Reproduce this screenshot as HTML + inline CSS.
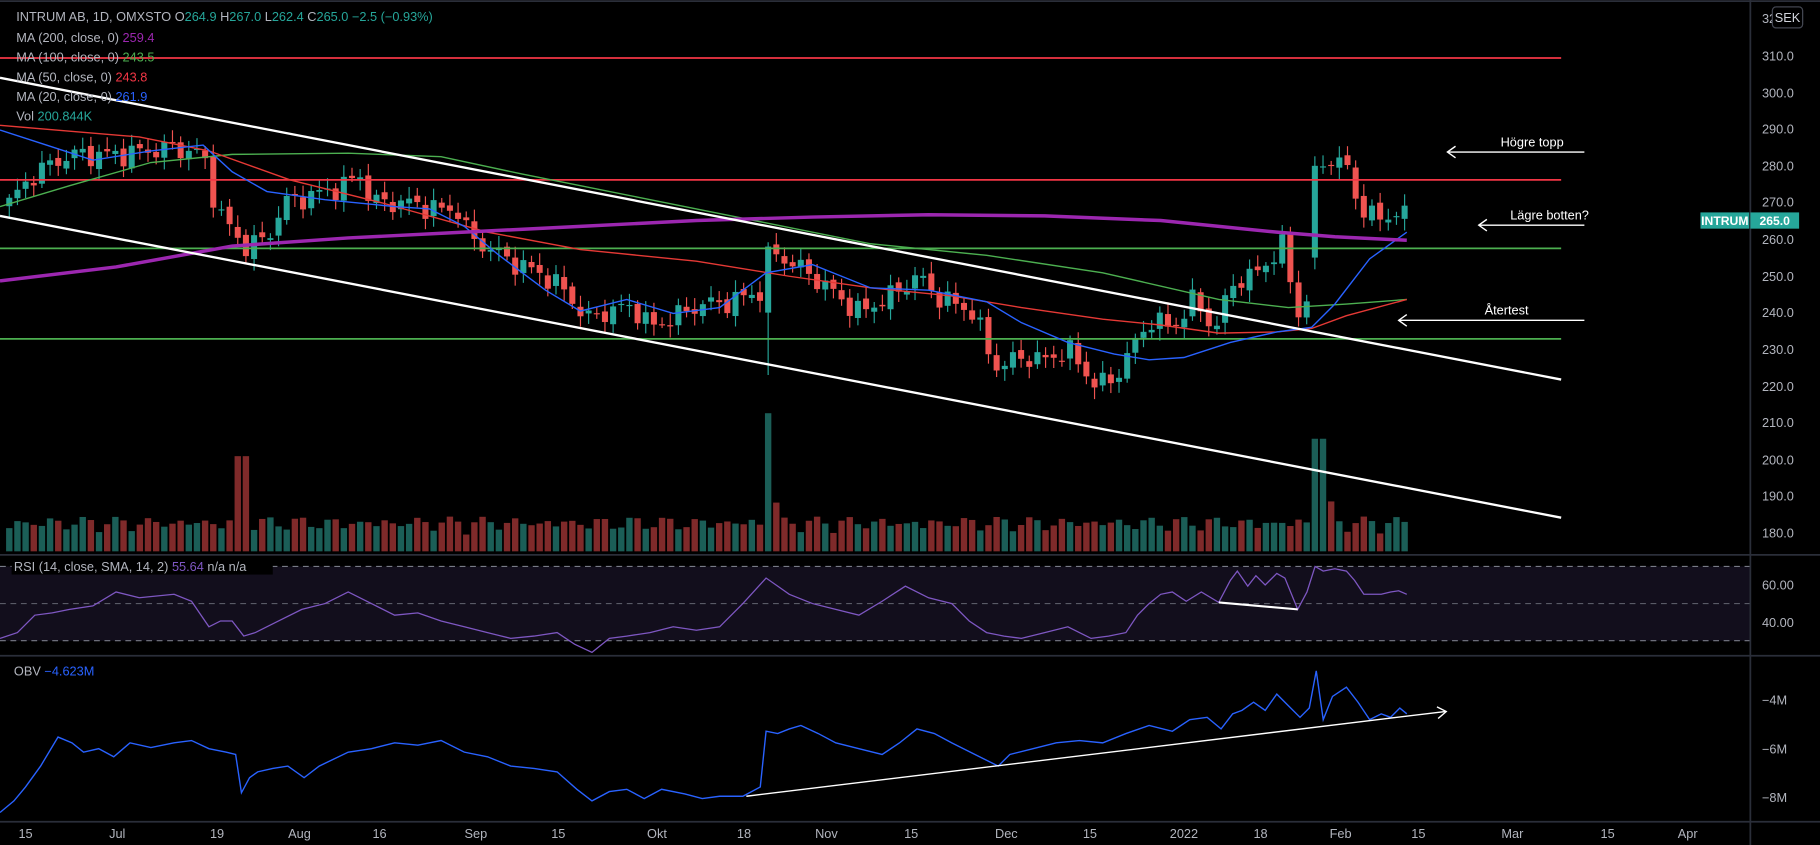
<!DOCTYPE html>
<html><head><meta charset="utf-8">
<style>
html,body{margin:0;padding:0;background:#000;overflow:hidden}
svg{display:block}
text{font-family:"Liberation Sans",sans-serif}
</style></head>
<body>
<svg id="s" width="1820" height="845" viewBox="0 0 1568 728" xmlns="http://www.w3.org/2000/svg">
<rect width="1568" height="728" fill="#000"/>
<rect x="0" y="488" width="1508" height="64" fill="#120e1c"/>
<line x1="0" y1="488" x2="1508" y2="488" stroke="#787b86" stroke-dasharray="5,4" stroke-width="1"/>
<line x1="0" y1="520" x2="1508" y2="520" stroke="#787b86" stroke-dasharray="5,4" stroke-width="1" opacity="0.7"/>
<line x1="0" y1="552" x2="1508" y2="552" stroke="#787b86" stroke-dasharray="5,4" stroke-width="1"/>
<line x1="0" y1="478" x2="1568" y2="478" stroke="#2a2e39" stroke-width="1.5"/>
<line x1="0" y1="565" x2="1568" y2="565" stroke="#2a2e39" stroke-width="1.5"/>
<line x1="0" y1="708" x2="1568" y2="708" stroke="#2a2e39" stroke-width="1.5"/>
<line x1="1508" y1="0" x2="1508" y2="728" stroke="#2a2e39" stroke-width="1.5"/>
<line x1="0" y1="1" x2="1568" y2="1" stroke="#2a2e39" stroke-width="1.5"/>
<g id="vol"></g>
<g id="candles"></g>
<line x1="0" y1="50" x2="1345" y2="50" stroke="#f23645" stroke-width="1.5"/>
<line x1="0" y1="155" x2="1345" y2="155" stroke="#f23645" stroke-width="1.5"/>
<line x1="0" y1="214" x2="1345" y2="214" stroke="#4caf50" stroke-width="1.5"/>
<line x1="0" y1="292" x2="1345" y2="292" stroke="#4caf50" stroke-width="1.5"/>
<polyline fill="none" stroke="#4caf50" stroke-width="1.2" points="0,178 60,160 130,140 200,133 300,132 380,135 450,150 550,170 650,190 750,210 850,220 950,235 1050,258 1110,265 1160,262 1212,258"/>
<polyline fill="none" stroke="#e53935" stroke-width="1.2" points="0,108 60,113 120,118 180,130 250,155 330,175 420,200 500,215 600,225 680,238 750,248 820,255 880,265 950,275 1000,280 1050,287 1100,286 1130,283 1160,272 1212,258"/>
<polyline fill="none" stroke="#2962ff" stroke-width="1.2" points="0,112 40,125 80,138 130,130 175,125 200,148 230,165 280,172 340,178 370,180 400,195 430,220 470,250 500,268 540,258 580,270 620,265 660,235 700,228 750,248 800,250 850,260 880,278 920,295 960,305 990,310 1020,308 1060,295 1100,286 1130,282 1150,262 1180,223 1212,200"/>
<polyline fill="none" stroke="#9c27b0" stroke-width="3" points="0,242 100,230 200,212 300,205 400,200 500,195 600,190 700,187 800,185 900,186 1000,190 1100,200 1150,204 1212,207"/>
<line x1="0" y1="67" x2="1345" y2="327" stroke="#fff" stroke-width="2"/>
<line x1="0" y1="186" x2="1345" y2="446" stroke="#fff" stroke-width="2"/>
<g stroke="#fff" stroke-width="1.2" fill="none">
<line x1="1248" y1="131" x2="1365" y2="131"/><polyline points="1254,126 1247,131 1254,136"/>
<line x1="1275" y1="194" x2="1365" y2="194"/><polyline points="1281,189 1274,194 1281,199"/>
<line x1="1206" y1="276" x2="1365" y2="276"/><polyline points="1212,271 1205,276 1212,281"/>
</g>
<g fill="#fff" font-size="11" text-anchor="middle">
<text x="1320" y="126">Högre topp</text>
<text x="1335" y="189">Lägre botten?</text>
<text x="1298" y="271">Återtest</text>
</g>
<polyline fill="none" stroke="#7e57c2" stroke-width="1.1" points="0,550 15,545 30,530 45,528 60,525 80,522 100,510 120,515 150,512 165,518 180,540 190,535 200,535 210,548 220,545 240,535 260,525 280,520 300,510 320,520 340,530 360,528 380,535 400,540 420,545 440,550 460,548 480,545 495,555 510,562 525,550 540,548 560,545 580,540 600,543 620,540 640,520 660,498 670,505 680,512 700,520 720,525 740,530 760,518 780,505 800,515 820,520 835,535 850,545 865,548 880,550 900,545 920,540 940,550 955,548 970,545 980,530 990,520 1000,512 1010,510 1022,518 1035,510 1050,519 1060,500 1066,492 1075,505 1082,496 1090,504 1100,494 1107,498 1118,525 1126,510 1133,488 1140,492 1150,490 1160,492 1167,500 1175,512 1190,512 1198,510 1205,509 1212,512"/>
<line x1="1050" y1="519" x2="1118" y2="525" stroke="#fff" stroke-width="1.8"/>
<polyline fill="none" stroke="#2962ff" stroke-width="1.2" points="0,700 12,690 22,678 35,660 50,635 62,640 72,648 85,645 98,652 112,640 130,644 150,640 165,638 180,645 195,648 203,650 208,683 215,670 222,665 235,662 248,660 262,670 275,660 300,648 320,645 340,640 360,642 380,638 400,648 420,652 440,660 460,662 480,665 497,680 510,690 525,682 540,680 555,688 570,680 590,684 605,688 620,686 640,686 655,678 660,630 670,632 680,628 690,625 705,632 720,640 740,645 760,650 775,640 790,628 805,632 820,640 840,650 860,660 870,650 890,645 910,640 930,638 950,640 970,632 990,625 1010,630 1025,620 1040,618 1052,628 1062,615 1070,612 1080,605 1090,612 1100,598 1110,608 1120,618 1128,610 1134,578 1140,620 1148,600 1160,592 1170,605 1180,620 1190,615 1198,618 1206,610 1212,615"/>
<line x1="643" y1="686" x2="1245" y2="613" stroke="#fff" stroke-width="1.2"/>
<polyline points="1238,609 1246,613 1239,619" fill="none" stroke="#fff" stroke-width="1.2"/>
<g fill="#b2b5be" font-size="11">
<text x="1518" y="52">310.0</text>
<text x="1518" y="84">300.0</text>
<text x="1518" y="115">290.0</text>
<text x="1518" y="147">280.0</text>
<text x="1518" y="178">270.0</text>
<text x="1518" y="210">260.0</text>
<text x="1518" y="242">250.0</text>
<text x="1518" y="273">240.0</text>
<text x="1518" y="305">230.0</text>
<text x="1518" y="337">220.0</text>
<text x="1518" y="368">210.0</text>
<text x="1518" y="400">200.0</text>
<text x="1518" y="431">190.0</text>
<text x="1518" y="463">180.0</text>
<text x="1518" y="20">320.0</text>
<text x="1518" y="508">60.00</text>
<text x="1518" y="540">40.00</text>
<text x="1518" y="607">−4M</text>
<text x="1518" y="649">−6M</text>
<text x="1518" y="691">−8M</text>
</g>
<rect x="1527" y="6" width="26" height="18" rx="3" fill="#000" stroke="#434651"/>
<text x="1540" y="19" fill="#d1d4dc" font-size="11" text-anchor="middle">SEK</text>
<rect x="1465" y="183" width="42" height="14" fill="#26a69a"/>
<text x="1486" y="194" fill="#fff" font-size="10.5" font-weight="bold" text-anchor="middle">INTRUM</text>
<rect x="1508" y="183" width="42" height="14" fill="#26a69a"/>
<text x="1529" y="194" fill="#fff" font-size="10.5" font-weight="bold" text-anchor="middle">265.0</text>
<g fill="#b2b5be" font-size="11" text-anchor="middle">
<text x="22" y="722">15</text><text x="101" y="722">Jul</text><text x="187" y="722">19</text>
<text x="258" y="722">Aug</text><text x="327" y="722">16</text><text x="410" y="722">Sep</text>
<text x="481" y="722">15</text><text x="566" y="722">Okt</text><text x="641" y="722">18</text>
<text x="712" y="722">Nov</text><text x="785" y="722">15</text><text x="867" y="722">Dec</text>
<text x="939" y="722">15</text><text x="1020" y="722">2022</text><text x="1086" y="722">18</text>
<text x="1155" y="722">Feb</text><text x="1222" y="722">15</text><text x="1303" y="722">Mar</text>
<text x="1385" y="722">15</text><text x="1454" y="722">Apr</text>
</g>
<g font-size="11" fill="#b2b5be">
<text x="14" y="18">INTRUM AB, 1D, OMXSTO  O<tspan fill="#26a69a">264.9</tspan>  H<tspan fill="#26a69a">267.0</tspan>  L<tspan fill="#26a69a">262.4</tspan>  C<tspan fill="#26a69a">265.0</tspan>  <tspan fill="#26a69a">−2.5 (−0.93%)</tspan></text>
<text x="14" y="36">MA (200, close, 0)  <tspan fill="#9c27b0">259.4</tspan></text>
<text x="14" y="53">MA (100, close, 0)  <tspan fill="#4caf50">243.5</tspan></text>
<text x="14" y="70">MA (50, close, 0)  <tspan fill="#f23645">243.8</tspan></text>
<text x="14" y="87">MA (20, close, 0)  <tspan fill="#2962ff">261.9</tspan></text>
<text x="14" y="104">Vol  <tspan fill="#26a69a">200.844K</tspan></text>
<text x="12" y="582">OBV  <tspan fill="#2962ff">−4.623M</tspan></text>
</g>
<rect x="1527" y="6" width="26" height="18" rx="3" fill="#000" stroke="#434651"/>
<text x="1540" y="19" fill="#d1d4dc" font-size="11" text-anchor="middle">SEK</text>
<rect x="10" y="481" width="225" height="14" fill="#000"/>
<text x="12" y="492" font-size="11" fill="#b2b5be">RSI (14, close, SMA, 14, 2)  <tspan fill="#7e57c2">55.64</tspan>  n/a  n/a</text>
</svg>
<script>
(function(){
var NS="http://www.w3.org/2000/svg";
function y(p){return 48+(310-p)*3.162;}
var K=[[8,270],[30,278],[60,283],[100,283],[150,285],[175,283],[187,268],[210,258],[230,260],[245,270],[270,272],[300,275],[310,278],[320,270],[350,270],[380,268],[395,268],[405,260],[420,258],[440,254],[470,250],[490,245],[505,238],[520,240],[545,242],[560,236],[575,238],[590,240],[600,242],[630,243],[656,246],[663,257],[680,254],[700,250],[720,245],[740,240],[770,245],[790,250],[810,244],[840,240],[850,230],[860,225],[880,228],[900,227],[920,230],[935,224],[945,220],[960,222],[975,230],[990,238],[1010,236],[1020,240],[1030,244],[1040,238],[1050,236],[1060,248],[1080,250],[1095,255],[1105,258],[1115,245],[1120,238],[1128,246],[1133,280],[1145,282],[1160,280],[1170,270],[1180,266],[1195,266],[1205,268],[1212,265]];
function f(x){for(var i=0;i<K.length-1;i++){if(x<=K[i+1][0]){var t=(x-K[i][0])/(K[i+1][0]-K[i][0]);return K[i][1]+t*(K[i+1][1]-K[i][1]);}}return K[K.length-1][1];}
var c=document.getElementById('candles'),v=document.getElementById('vol');
var prev=269,n=172;
for(var i=0;i<n;i++){
 var x=8+i*7.03;
 var cl=f(x)+2.2*Math.sin(i*1.7)+1.3*Math.cos(i*2.9);
 var op=prev+0.8*Math.sin(i*3.3);
 if(Math.abs(x-663)<4){op=240;cl=258;}
 if(Math.abs(x-1133)<4){op=255;cl=280;}
 var hi=Math.max(op,cl)+1+Math.abs(Math.sin(i*5.1))*2.2;
 var lo=Math.min(op,cl)-1-Math.abs(Math.cos(i*4.3))*2.2;
 if(Math.abs(x-663)<4)lo=223;
 var up=cl>=op,col=up?'#26a69a':'#ef5350';
 var l=document.createElementNS(NS,'line');
 l.setAttribute('x1',x);l.setAttribute('x2',x);l.setAttribute('y1',y(hi));l.setAttribute('y2',y(lo));
 l.setAttribute('stroke',col);l.setAttribute('stroke-width','1');c.appendChild(l);
 var r=document.createElementNS(NS,'rect');
 var t=y(Math.max(op,cl)),b=y(Math.min(op,cl));
 r.setAttribute('x',x-2.6);r.setAttribute('width',5.2);r.setAttribute('y',t);r.setAttribute('height',Math.max(1,b-t));
 r.setAttribute('fill',col);c.appendChild(r);
 var h=14+10*Math.abs(Math.sin(i*2.3))+6*Math.abs(Math.cos(i*0.7));
 if(Math.abs(x-208)<4)h=82;
 if(Math.abs(x-663)<4)h=119;
 if(Math.abs(x-670)<4)h=42;
 if(Math.abs(x-1133)<4)h=97;
 if(Math.abs(x-1140)<4)h=97;
 if(Math.abs(x-1148)<4)h=43;
 var vr=document.createElementNS(NS,'rect');
 vr.setAttribute('x',x-2.75);vr.setAttribute('width',5.5);vr.setAttribute('y',475-h);vr.setAttribute('height',h);
 vr.setAttribute('fill',up?'#1b5e57':'#7f2a2a');v.appendChild(vr);
 prev=cl;
}
})();
</script>
</body></html>
